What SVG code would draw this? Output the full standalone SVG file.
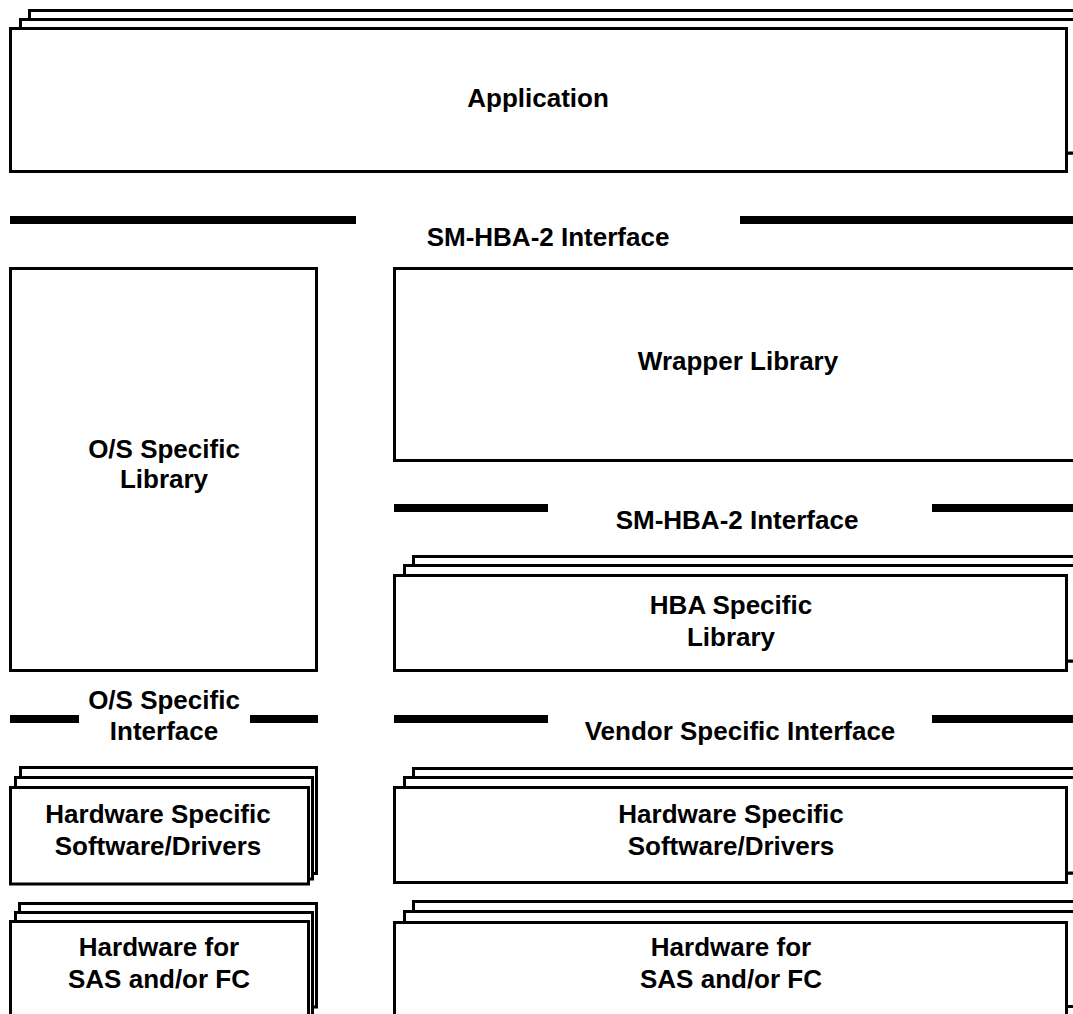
<svg xmlns="http://www.w3.org/2000/svg" width="1073" height="1014" viewBox="0 0 1073 1014">
  <style>
    .box { fill: #ffffff; stroke: #000000; stroke-width: 3; }
    .bar { fill: #000000; }
    .lbl { font-family: "Liberation Sans", Arial, sans-serif; font-weight: bold; font-size: 26px; fill: #000000; text-anchor: middle; }
  </style>
  <rect x="0" y="0" width="1073" height="1014" fill="#ffffff"/>

  <!-- interface separator bars -->
  <g id="interfaces">
    <rect class="bar" x="10" y="216" width="346" height="8"/>
    <rect class="bar" x="740" y="216" width="340" height="8"/>
    <rect class="bar" x="394" y="504" width="154" height="8"/>
    <rect class="bar" x="932" y="504" width="150" height="8"/>
    <rect class="bar" x="10" y="715" width="69" height="8"/>
    <rect class="bar" x="250" y="715" width="68" height="8"/>
    <rect class="bar" x="394" y="715" width="154" height="8"/>
    <rect class="bar" x="932" y="715" width="150" height="8"/>
  </g>

  <g id="application">
    <rect class="box" x="29.5" y="10.5" width="1070" height="142.5"/>
    <rect class="box" x="20.5" y="19.5" width="1070" height="133.5"/>
    <rect class="box" x="10.5" y="28.5" width="1056" height="143"/>
    <text class="lbl" x="538" y="107">Application</text>
  </g>

  <g id="label-smhba-top">
    <text class="lbl" x="548" y="246">SM-HBA-2 Interface</text>
  </g>

  <g id="os-library">
    <rect class="box" x="10.5" y="268.5" width="306" height="402"/>
    <text class="lbl" x="164" y="458">O/S Specific</text>
    <text class="lbl" x="164" y="488">Library</text>
  </g>

  <g id="wrapper-library">
    <rect class="box" x="394.5" y="268.5" width="700" height="192"/>
    <text class="lbl" x="738" y="370">Wrapper Library</text>
  </g>

  <g id="label-smhba-mid">
    <text class="lbl" x="737" y="529">SM-HBA-2 Interface</text>
  </g>

  <g id="hba-library">
    <rect class="box" x="413.5" y="556.5" width="680" height="104.5"/>
    <rect class="box" x="404.5" y="565.5" width="680" height="95.5"/>
    <rect class="box" x="394.5" y="575.5" width="672" height="95"/>
    <text class="lbl" x="731" y="614">HBA Specific</text>
    <text class="lbl" x="731" y="646">Library</text>
  </g>

  <g id="label-os-interface">
    <text class="lbl" x="164" y="709">O/S Specific</text>
    <text class="lbl" x="164" y="740">Interface</text>
  </g>

  <g id="label-vendor-interface">
    <text class="lbl" x="740" y="740">Vendor Specific Interface</text>
  </g>

  <g id="os-drivers">
    <rect class="box" x="20.5" y="767.5" width="296" height="106"/>
    <rect class="box" x="15.5" y="777.5" width="297" height="101.5"/>
    <rect class="box" x="10.5" y="787.5" width="298" height="96.5"/>
    <text class="lbl" x="158" y="823">Hardware Specific</text>
    <text class="lbl" x="158" y="855">Software/Drivers</text>
  </g>

  <g id="vendor-drivers">
    <rect class="box" x="413.5" y="768.5" width="680" height="104.5"/>
    <rect class="box" x="404.5" y="777.5" width="680" height="95.5"/>
    <rect class="box" x="394.5" y="787.5" width="672" height="95"/>
    <text class="lbl" x="731" y="823">Hardware Specific</text>
    <text class="lbl" x="731" y="855">Software/Drivers</text>
  </g>

  <g id="os-hardware">
    <rect class="box" x="19.5" y="903.5" width="297" height="103.5"/>
    <rect class="box" x="15.5" y="912.5" width="297" height="107"/>
    <rect class="box" x="10.5" y="921.5" width="298" height="110"/>
    <text class="lbl" x="159" y="956">Hardware for</text>
    <text class="lbl" x="159" y="988">SAS and/or FC</text>
  </g>

  <g id="vendor-hardware">
    <rect class="box" x="413.5" y="901.5" width="680" height="105"/>
    <rect class="box" x="404.5" y="911.5" width="680" height="95"/>
    <rect class="box" x="394.5" y="922.5" width="672" height="110"/>
    <text class="lbl" x="731" y="956">Hardware for</text>
    <text class="lbl" x="731" y="988">SAS and/or FC</text>
  </g>
</svg>
